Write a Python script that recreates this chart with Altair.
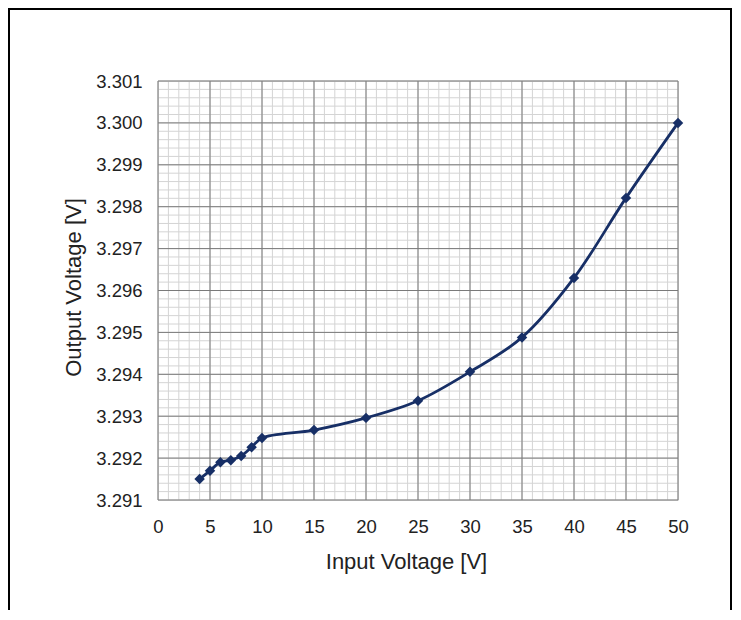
import altair as alt
import pandas as pd

# Data
input_v = [4, 5, 6, 7, 8, 9, 10, 15, 20, 25, 30, 35, 40, 45, 50]
output_v = [3.2915, 3.2917, 3.2919, 3.29195, 3.29205, 3.29226, 3.29248,
            3.29267, 3.29296, 3.29337, 3.29406, 3.29488, 3.2963, 3.29821, 3.3000]

x_major = list(range(0, 51, 5))
x_minor = list(range(0, 51, 1))
y_major = [round(3.291 + 0.001 * k, 4) for k in range(11)]
y_minor = [round(3.291 + 0.0002 * k, 4) for k in range(51)]

df = pd.DataFrame({"x": input_v, "y": output_v})
LINE = "#172f66"
FONT = "Liberation Sans"
TXT = "#222222"

xs = alt.Scale(domain=[0, 50], nice=False)
ys = alt.Scale(domain=[3.291, 3.301], nice=False, zero=False)

x_axis = alt.Axis(values=x_major, grid=False, domain=False, ticks=False,
                  labelFlush=False, labelOverlap=False,
                  labelFontSize=18.5, labelPadding=17, labelColor=TXT, labelFont=FONT,
                  titleFontSize=22, titleFont=FONT, titleFontWeight="normal",
                  titleColor=TXT, titleX=248, titleY=61, titleBaseline="middle")
y_axis = alt.Axis(values=y_major, format=".3f", grid=False, domain=False, ticks=False,
                  labelFlush=False, labelOverlap=False,
                  labelFontSize=18.5, labelPadding=16, labelColor=TXT, labelFont=FONT,
                  titleFontSize=22, titleFont=FONT, titleFontWeight="normal",
                  titleColor=TXT, titleX=-85, titleY=206, titleBaseline="middle")

XT = "Input Voltage [V]"
YT = "Output Voltage [V]"

frame = alt.Chart(pd.DataFrame({"a": [0]})).mark_rect(
    fill=None, stroke="black", strokeWidth=2
).encode(x=alt.value(-149), x2=alt.value(573), y=alt.value(-72), y2=alt.value(600))

xminor = alt.Chart(pd.DataFrame({"x": x_minor})).mark_rule(
    color="#d4d4d4", strokeWidth=1
).encode(x=alt.X("x:Q", scale=xs, axis=x_axis, title=XT))
yminor = alt.Chart(pd.DataFrame({"y": y_minor})).mark_rule(
    color="#d4d4d4", strokeWidth=1
).encode(y=alt.Y("y:Q", scale=ys, axis=y_axis, title=YT))
xmajor = alt.Chart(pd.DataFrame({"x": x_major})).mark_rule(
    color="#7a7a7a", strokeWidth=1
).encode(x=alt.X("x:Q", scale=xs, axis=x_axis, title=XT))
ymajor = alt.Chart(pd.DataFrame({"y": y_major})).mark_rule(
    color="#7a7a7a", strokeWidth=1
).encode(y=alt.Y("y:Q", scale=ys, axis=y_axis, title=YT))

base = alt.Chart(df).encode(
    x=alt.X("x:Q", scale=xs, title=XT, axis=x_axis),
    y=alt.Y("y:Q", scale=ys, title=YT, axis=y_axis),
)

line = base.mark_line(color=LINE, strokeWidth=2.8, interpolate="catmull-rom")
pts = base.mark_point(shape="diamond", filled=True, size=110, color=LINE, opacity=1)

chart = alt.layer(frame, xminor, yminor, xmajor, ymajor, line, pts).properties(
    width=520, height=419,
    autosize=alt.AutoSizeParams(type="none"),
    padding={"left": 150, "top": 73, "right": 55, "bottom": 110},
).configure_view(stroke="#7a7a7a", strokeWidth=2.5).configure(background="white")

chart.save("out.html", embed_options={"renderer": "svg", "actions": False})
